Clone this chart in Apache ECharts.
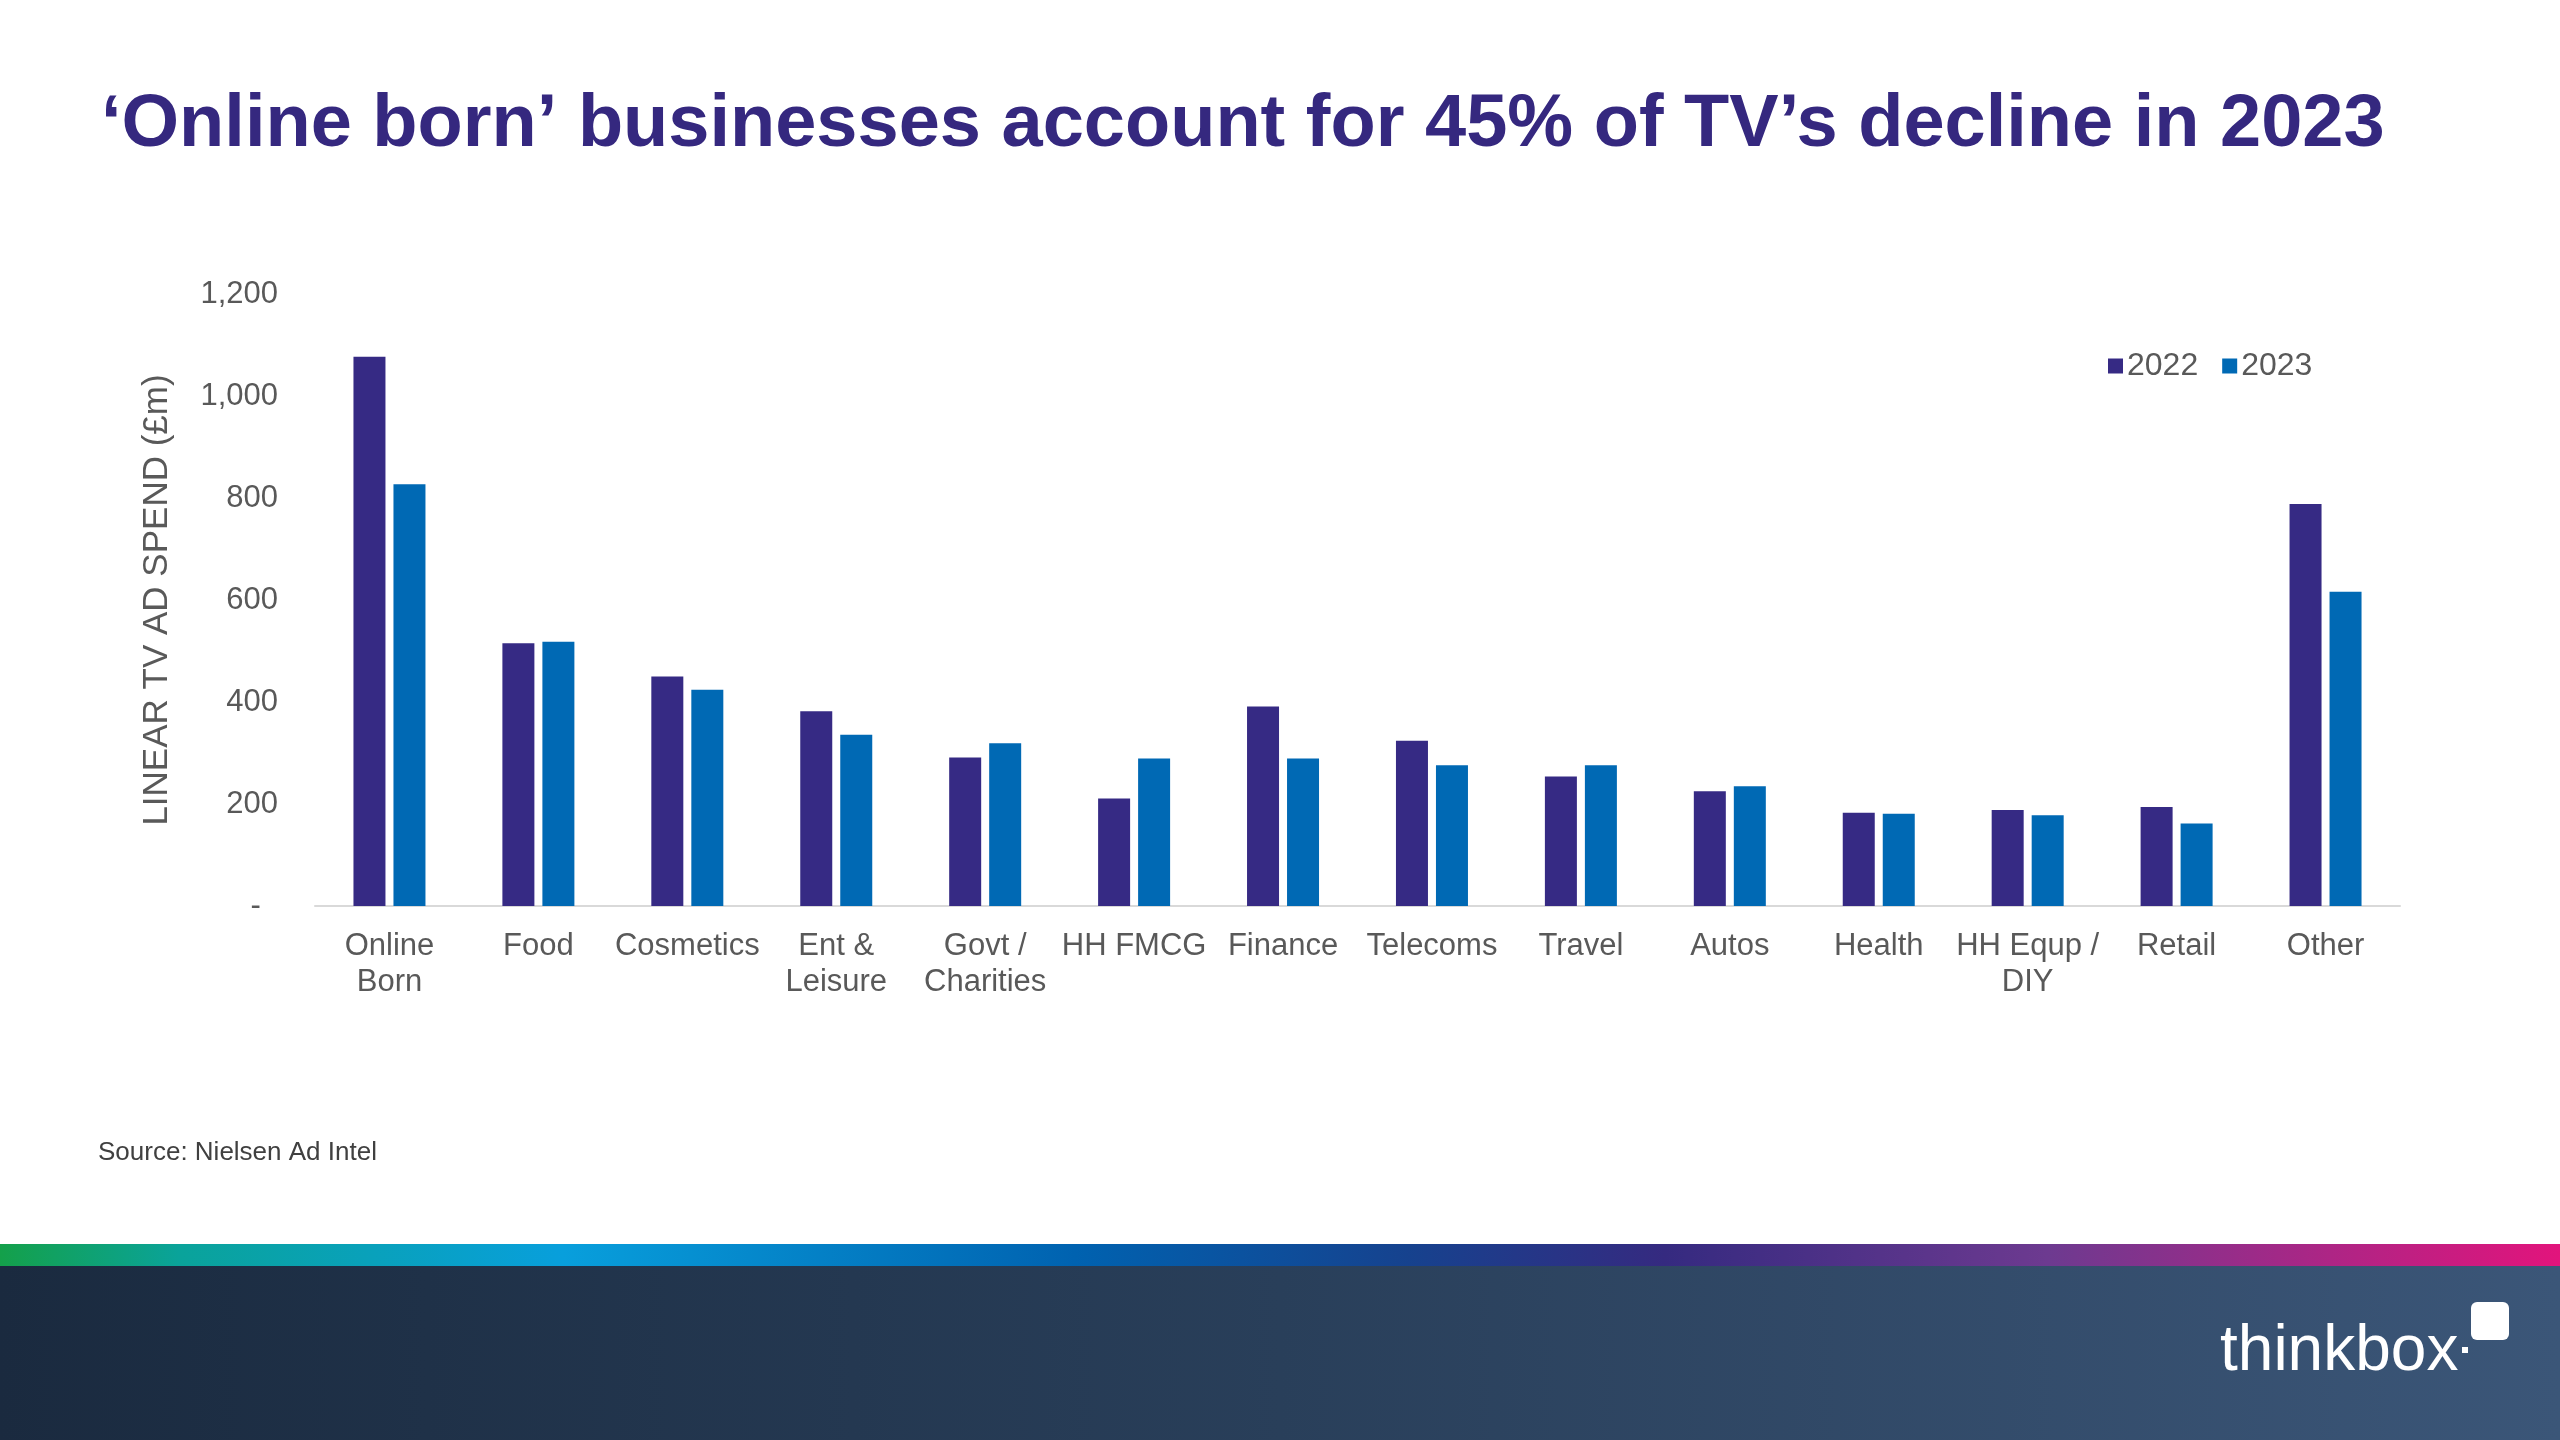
<!DOCTYPE html>
<html><head><meta charset="utf-8">
<script src="https://cdn.jsdelivr.net/npm/echarts@6/dist/echarts.min.js"></script>
<style>html,body{margin:0;padding:0;background:#fff}#c{width:2560px;height:1440px}</style>
</head><body><div id="c"></div>
<script>
const categories = ['Online\nBorn','Food','Cosmetics','Ent &\nLeisure','Govt /\nCharities','HH FMCG','Finance','Telecoms','Travel','Autos','Health','HH Equp /\nDIY','Retail','Other'];
const spend2022 = [1077, 515, 450, 382, 291, 211, 391, 324, 254, 225, 183, 188, 194, 788];
const spend2023 = [827, 518, 424, 336, 319, 289, 289, 276, 276, 235, 181, 178, 162, 616];
const seriesNames = ['2022','2023'];
const yTicks = {min:0, max:1200, interval:200};

const chart = echarts.init(document.getElementById('c'));
const FONT = '"Liberation Sans", Arial, sans-serif';
chart.setOption({
  backgroundColor:'#ffffff',
  textStyle:{fontFamily:FONT},
  title:{
    text:'\u2018Online born\u2019 businesses account for 45% of TV\u2019s decline in 2023',
    left:96, top:84,
    textStyle:{fontFamily:FONT, fontWeight:'bold', fontSize:74, color:'#35287f'}
  },
  legend:{
    data:seriesNames, left:2103, top:345, icon:'rect', itemWidth:15, itemHeight:15, itemGap:24,
    textStyle:{fontFamily:FONT, fontSize:32, color:'#595959', padding:[0,0,0,-1]}
  },
  grid:{left:315, right:160, top:294, bottom:534, containLabel:false},
  xAxis:{
    type:'category', data:categories,
    axisTick:{show:false},
    axisLine:{lineStyle:{color:'#d9d9d9', width:2}},
    axisLabel:{interval:0, color:'#595959', fontSize:31, lineHeight:36, margin:22, fontFamily:FONT}
  },
  yAxis:{
    type:'value', min:yTicks.min, max:yTicks.max, interval:yTicks.interval,
    name:'LINEAR TV AD SPEND (\u00a3m)', nameLocation:'middle', nameGap:140, nameRotate:90,
    nameTextStyle:{fontFamily:FONT, fontSize:35, color:'#595959'},
    axisLine:{show:false}, axisTick:{show:false}, splitLine:{show:false},
    axisLabel:{color:'#595959', fontSize:31, margin:37, fontFamily:FONT,
      formatter:v => v===0 ? '-  ' : v.toLocaleString('en-US')}
  },
  series:[
    {name:seriesNames[0], type:'bar', data:spend2022, barWidth:32, barGap:'25%', itemStyle:{color:'#362a84'}},
    {name:seriesNames[1], type:'bar', data:spend2023, barWidth:32, itemStyle:{color:'#0069b4'}}
  ],
  graphic:[
    {type:'text', left:98, top:1140, style:{text:'Source: Nielsen Ad Intel', font:'26px '+FONT, fill:'#404040'}},
    {type:'rect', left:0, top:1244, shape:{width:2560, height:22},
      style:{fill:new echarts.graphic.LinearGradient(0,0,1,0,[
        {offset:0,color:'#14a04a'},{offset:0.07,color:'#0aa39a'},{offset:0.22,color:'#089fdc'},
        {offset:0.42,color:'#0062b0'},{offset:0.55,color:'#16428e'},{offset:0.65,color:'#352a80'},
        {offset:0.8,color:'#6d3a90'},{offset:1,color:'#e2147c'}])}},
    {type:'rect', left:0, top:1266, shape:{width:2560, height:174},
      style:{fill:new echarts.graphic.LinearGradient(0,0,1,0,[
        {offset:0,color:'#1a2a3f'},{offset:0.5,color:'#293f5a'},{offset:1,color:'#3b5678'}])}},
    {type:'text', left:2220, top:1320, style:{text:'thinkbox', font:'64px '+FONT, fill:'#ffffff'}},
    {type:'rect', left:2471, top:1302, shape:{width:38, height:38, r:6}, style:{fill:'#ffffff'}},
    {type:'rect', left:2462, top:1347, shape:{width:6, height:6}, style:{fill:'#ffffff'}}
  ]
});
</script></body></html>
